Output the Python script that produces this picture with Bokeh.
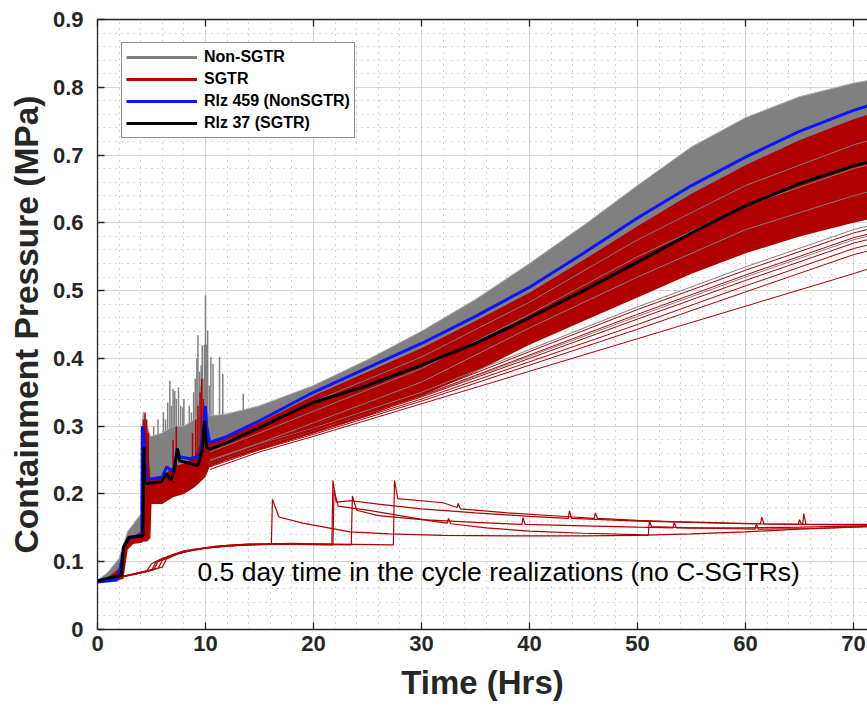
import math
from bokeh.plotting import figure
from bokeh.models import (LinearAxis, Legend, LegendItem, Label, Range1d,
                          SingleIntervalTicker, CustomJSTickFormatter)
from bokeh.embed import file_html
from bokeh.resources import INLINE

# ---------------- data ----------------
# envelope of the dense ensembles
T_BAND = [0, 1, 2, 2.4, 2.8, 3.3, 4.1, 4.25, 4.6, 4.9, 5, 6, 7, 8, 9, 10, 10.4,
          12, 15, 20, 25, 30, 35, 40, 45, 50, 55, 60, 65, 70, 72]
GRAY_HI = [0.072, 0.085, 0.105, 0.125, 0.145, 0.155, 0.172, 0.32, 0.30, 0.285, 0.285,
           0.29, 0.3, 0.3, 0.31, 0.33, 0.315, 0.318, 0.33, 0.36, 0.398, 0.44,
           0.487, 0.54, 0.596, 0.655, 0.712, 0.755, 0.786, 0.806, 0.812]
GRAY_LO = [0.07, 0.072, 0.078, 0.085, 0.125, 0.13, 0.135, 0.135, 0.2, 0.2, 0.205,
           0.205, 0.21, 0.215, 0.22, 0.235, 0.245, 0.255, 0.27, 0.295, 0.32, 0.35,
           0.385, 0.425, 0.46, 0.495, 0.53, 0.56, 0.585, 0.605, 0.612]
RED_HI = [0.071, 0.078, 0.09, 0.118, 0.133, 0.138, 0.145, 0.31, 0.285, 0.225, 0.22,
          0.225, 0.24, 0.245, 0.255, 0.29, 0.275, 0.285, 0.305, 0.345, 0.38, 0.415,
          0.455, 0.497, 0.545, 0.595, 0.643, 0.685, 0.722, 0.753, 0.763]
RED_LO = [0.07, 0.071, 0.073, 0.075, 0.118, 0.126, 0.128, 0.13, 0.13, 0.135, 0.185,
          0.185, 0.195, 0.2, 0.21, 0.225, 0.24, 0.25, 0.265, 0.29, 0.315, 0.345,
          0.38, 0.42, 0.455, 0.49, 0.525, 0.555, 0.58, 0.6, 0.607]

# early pressure spikes
GSPIKE_X = [4.25, 4.35, 4.45, 5.2, 5.6, 6.1, 6.3, 6.5, 6.7, 6.85, 7.0, 7.15, 7.3, 7.5,
            7.7, 7.9, 8.0, 8.3, 8.5, 8.7, 8.9, 9.05, 9.2, 9.3, 9.45, 9.55, 9.6, 9.7,
            9.85, 9.9, 10.0, 10.1, 10.2, 10.35, 10.5, 10.7, 11.3, 11.6, 13.5]
GSPIKE_TOP = [0.32, 0.315, 0.31, 0.3, 0.31, 0.32, 0.31, 0.335, 0.367, 0.33, 0.355,
              0.352, 0.34, 0.357, 0.33, 0.328, 0.34, 0.3, 0.33, 0.32, 0.35, 0.37, 0.4,
              0.434, 0.38, 0.36, 0.39, 0.419, 0.37, 0.42, 0.493, 0.42, 0.441, 0.36,
              0.402, 0.392, 0.402, 0.377, 0.348]
GSPIKE_BASE = [0.22, 0.22, 0.22, 0.23, 0.235, 0.24, 0.24, 0.245, 0.245, 0.25, 0.25,
               0.25, 0.25, 0.25, 0.25, 0.255, 0.255, 0.26, 0.26, 0.26, 0.265, 0.265,
               0.27, 0.27, 0.27, 0.27, 0.27, 0.27, 0.27, 0.28, 0.28, 0.28, 0.28, 0.29,
               0.29, 0.3, 0.305, 0.31, 0.32]
RSPIKE_X = [4.25, 4.4, 4.55, 4.7, 7.0, 7.3, 8.8, 9.1, 9.3, 9.5, 9.65, 9.8, 10.0]
RSPIKE_TOP = [0.31, 0.32, 0.31, 0.29, 0.28, 0.3, 0.29, 0.31, 0.33, 0.35, 0.37, 0.34, 0.3]
RSPIKE_BASE = [0.2, 0.2, 0.2, 0.2, 0.21, 0.21, 0.22, 0.22, 0.22, 0.23, 0.23, 0.23, 0.24]

# individual realizations on a coarse grid (late phase)
T_SCAT = [10.4, 15, 20, 30, 40, 50, 60, 70, 72]
GRAY_INSIDE = [
    [0.25, 0.275, 0.305, 0.365, 0.445, 0.52, 0.59, 0.64, 0.648],
    [0.262, 0.29, 0.322, 0.385, 0.465, 0.55, 0.625, 0.68, 0.688],
    [0.268, 0.298, 0.336, 0.402, 0.483, 0.575, 0.655, 0.715, 0.724],
]
RED_BELOW = [
    [0.236, 0.262, 0.285, 0.333, 0.381, 0.429, 0.477, 0.525, 0.535],
    [0.24, 0.265, 0.288, 0.337, 0.39, 0.443, 0.498, 0.553, 0.561],
    [0.242, 0.267, 0.29, 0.34, 0.395, 0.45, 0.507, 0.562, 0.57],
    [0.244, 0.269, 0.292, 0.343, 0.4, 0.458, 0.515, 0.57, 0.578],
    [0.246, 0.271, 0.294, 0.345, 0.405, 0.465, 0.523, 0.578, 0.586],
    [0.247, 0.273, 0.296, 0.347, 0.41, 0.472, 0.53, 0.585, 0.593],
]
GRAY_BELOW = [
    [0.245, 0.27, 0.293, 0.344, 0.403, 0.462, 0.52, 0.575, 0.583],
    [0.248, 0.274, 0.297, 0.35, 0.413, 0.476, 0.535, 0.59, 0.598],
]

# 0.5 day time in the cycle realizations
LOW1_T = [0, 4.5, 5.0, 6, 8, 10, 12, 14, 16.1, 16.2, 16.8, 19, 23.4, 27, 32, 38, 45,
          50, 55, 60, 65, 72]
LOW1_Y = [0.07, 0.085, 0.097, 0.105, 0.114, 0.12, 0.124, 0.126, 0.126, 0.192, 0.166,
          0.157, 0.144, 0.141, 0.139, 0.138, 0.138, 0.139, 0.141, 0.144, 0.148, 0.152]
LOW2_T = [0, 5.6, 6.0, 7, 9, 11, 14, 18, 21.7, 21.8, 22.1, 23.5, 26, 30, 35, 40, 43.6,
          43.7, 43.9, 50, 56, 61.4, 61.5, 61.7, 65.3, 65.4, 65.6, 72]
LOW2_Y = [0.07, 0.09, 0.102, 0.11, 0.118, 0.123, 0.126, 0.127, 0.126, 0.22, 0.188,
          0.19, 0.185, 0.178, 0.172, 0.167, 0.164, 0.175, 0.164, 0.16, 0.158, 0.156,
          0.166, 0.156, 0.155, 0.171, 0.155, 0.154]
LOW3_T = [0, 5.2, 5.6, 6.5, 8, 10, 13, 16, 21.8, 21.9, 22.3, 25, 28, 31, 32.4, 32.5,
          32.7, 36, 40, 45, 50, 51.0, 51.1, 51.3, 55, 60, 65, 72]
LOW3_Y = [0.07, 0.088, 0.1, 0.108, 0.116, 0.121, 0.125, 0.126, 0.125, 0.205, 0.182,
          0.176, 0.168, 0.16, 0.157, 0.164, 0.156, 0.15, 0.145, 0.142, 0.14, 0.139,
          0.16, 0.152, 0.15, 0.15, 0.151, 0.153]
LOW4_T = [0, 6.0, 6.4, 7.5, 9, 11, 14, 18, 23.5, 23.6, 24.0, 26, 30, 35, 39.3, 39.4,
          39.6, 45, 50, 53.3, 53.4, 53.6, 58, 60.9, 61.0, 61.2, 66, 72]
LOW4_Y = [0.07, 0.092, 0.104, 0.112, 0.118, 0.122, 0.125, 0.126, 0.125, 0.197, 0.176,
          0.168, 0.162, 0.158, 0.155, 0.165, 0.155, 0.153, 0.151, 0.15, 0.158, 0.15,
          0.149, 0.148, 0.156, 0.148, 0.149, 0.152]
LOW5_T = [0, 5.0, 5.4, 6.5, 8, 10, 13, 17, 22, 27.4, 27.5, 27.8, 32, 33.3, 33.4, 33.6,
          38, 44, 46.0, 46.1, 46.3, 50, 55, 60, 64.9, 65.0, 65.2, 72]
LOW5_Y = [0.07, 0.087, 0.099, 0.107, 0.115, 0.12, 0.124, 0.126, 0.126, 0.125, 0.22,
          0.193, 0.187, 0.18, 0.186, 0.178, 0.172, 0.166, 0.164, 0.172, 0.164, 0.161,
          0.158, 0.156, 0.155, 0.162, 0.155, 0.155]

# highlighted realizations
BLUE_T = [0, 1.8, 2.1, 2.5, 3.0, 4.1, 4.15, 4.3, 4.5, 5.0, 6.0, 6.4, 6.8, 7.1, 7.4, 7.6,
          8.5, 9.4, 9.6, 10.0, 10.1, 10.4, 12, 15, 20, 25, 30, 35, 40, 45, 50, 55, 60,
          65, 70, 72]
BLUE_Y = [0.07, 0.073, 0.09, 0.125, 0.135, 0.14, 0.3, 0.275, 0.222, 0.222, 0.225, 0.24,
          0.235, 0.238, 0.265, 0.255, 0.252, 0.255, 0.265, 0.33, 0.3, 0.276, 0.285,
          0.308, 0.35, 0.386, 0.422, 0.462, 0.505, 0.555, 0.607, 0.655, 0.697, 0.735,
          0.766, 0.776]
BLACK_T = [0, 2.2, 2.4, 2.9, 4.2, 4.3, 4.35, 5.9, 6.4, 6.8, 7.1, 7.4, 7.6, 9.3, 9.7,
           9.9, 10.1, 10.4, 12, 15, 17, 20, 25, 30, 35, 40, 45, 50, 55, 60, 65, 70, 72]
BLACK_Y = [0.072, 0.08, 0.121, 0.136, 0.138, 0.269, 0.215, 0.218, 0.23, 0.22, 0.235,
           0.267, 0.249, 0.242, 0.264, 0.308, 0.269, 0.266, 0.276, 0.298, 0.313, 0.335,
           0.36, 0.39, 0.422, 0.46, 0.5, 0.542, 0.585, 0.625, 0.658, 0.684, 0.692]

LEGEND_LABELS = ["Non-SGTR", "SGTR", "Rlz 459 (NonSGTR)", "Rlz 37 (SGTR)"]
ANNOTATION = "0.5 day time in the cycle realizations (no C-SGTRs)"
X_LABEL = "Time (Hrs)"
Y_LABEL = "Containment Pressure (MPa)"

# ---------------- styling ----------------
GRAY = "#808080"
RED = "#b00000"
BLUE = "#0a14ff"
BLACK = "#000000"
AX = "#262626"
FONT = "Liberation Sans"

p = figure(width=867, height=713, x_range=Range1d(0, 71.3), y_range=Range1d(0, 0.9),
           output_backend="svg", toolbar_location=None,
           min_border_left=97, min_border_right=0, min_border_top=19,
           min_border_bottom=84, background_fill_color="white",
           border_fill_color="white", outline_line_color=None)

xticker = SingleIntervalTicker(interval=10, num_minor_ticks=5)
yticker = SingleIntervalTicker(interval=0.1, num_minor_ticks=5)
p.xaxis.ticker = xticker
p.yaxis.ticker = yticker
p.xgrid.ticker = xticker
p.ygrid.ticker = yticker
p.yaxis.formatter = CustomJSTickFormatter(
    code="return Math.abs(tick) < 1e-9 ? '0' : tick.toFixed(1);")

for g in (p.xgrid, p.ygrid):
    g.grid_line_color = "#d6d6d6"
    g.grid_line_width = 1
    g.minor_grid_line_color = "#9a9a9a"
    g.minor_grid_line_dash = "1 5"
    g.minor_grid_line_alpha = 0.8

for ax in (p.xaxis[0], p.yaxis[0]):
    ax.axis_line_color = AX
    ax.axis_line_width = 1.3
    ax.major_tick_line_color = AX
    ax.major_tick_line_width = 1.3
    ax.major_tick_in = 7
    ax.major_tick_out = 0
    ax.minor_tick_in = 0
    ax.minor_tick_out = 0
    ax.major_label_text_font = FONT
    ax.major_label_text_font_style = "bold"
    ax.major_label_text_font_size = "22px"
    ax.major_label_text_color = AX
    ax.axis_label_text_font = FONT
    ax.axis_label_text_font_style = "bold"
    ax.axis_label_text_color = AX

p.xaxis.axis_label = X_LABEL
p.yaxis.axis_label = Y_LABEL
p.xaxis.axis_label_text_font_size = "33px"
p.yaxis.axis_label_text_font_size = "33.5px"
p.xaxis.major_label_standoff = 6
p.xaxis.axis_label_standoff = 10
p.yaxis.major_label_standoff = 14
p.yaxis.axis_label_standoff = 5

top = LinearAxis(ticker=xticker, formatter=CustomJSTickFormatter(code="return '';"),
                 major_label_text_font_size="0px", major_label_standoff=0,
                 major_tick_in=7, major_tick_out=0, minor_tick_in=0, minor_tick_out=0,
                 axis_line_color=AX, axis_line_width=1.3, major_tick_line_color=AX,
                 major_tick_line_width=1.3)
p.add_layout(top, "above")

# ---------------- glyphs ----------------
p.varea(x=T_BAND, y1=GRAY_LO, y2=GRAY_HI, fill_color=GRAY)
p.segment(x0=GSPIKE_X, y0=GSPIKE_BASE, x1=GSPIKE_X, y1=GSPIKE_TOP,
          line_color=GRAY, line_width=1.5)
p.line(x=T_BAND, y=GRAY_HI, line_color="#a8a8a8", line_width=1)

p.varea(x=T_BAND, y1=RED_LO, y2=RED_HI, fill_color=RED)
p.segment(x0=RSPIKE_X, y0=RSPIKE_BASE, x1=RSPIKE_X, y1=RSPIKE_TOP,
          line_color=RED, line_width=1.5)

p.multi_line(xs=[T_SCAT] * len(GRAY_INSIDE), ys=GRAY_INSIDE,
             line_color=GRAY, line_width=1)
p.multi_line(xs=[T_SCAT] * len(GRAY_BELOW), ys=GRAY_BELOW,
             line_color=GRAY, line_width=1)
p.multi_line(xs=[T_SCAT] * len(RED_BELOW), ys=RED_BELOW,
             line_color=RED, line_width=1)

p.multi_line(xs=[LOW1_T, LOW2_T, LOW3_T, LOW4_T, LOW5_T],
             ys=[LOW1_Y, LOW2_Y, LOW3_Y, LOW4_Y, LOW5_Y],
             line_color=RED, line_width=1.2)

p.line(x=BLUE_T, y=BLUE_Y, line_color=BLUE, line_width=3)
p.line(x=BLACK_T, y=BLACK_Y, line_color=BLACK, line_width=3)

# legend proxies
nan = [math.nan]
r_g = p.line(x=nan, y=nan, line_color=GRAY, line_width=3)
r_r = p.line(x=nan, y=nan, line_color=RED, line_width=3)
r_b = p.line(x=nan, y=nan, line_color=BLUE, line_width=3)
r_k = p.line(x=nan, y=nan, line_color=BLACK, line_width=3)

legend = Legend(items=[LegendItem(label=LEGEND_LABELS[0], renderers=[r_g]),
                       LegendItem(label=LEGEND_LABELS[1], renderers=[r_r]),
                       LegendItem(label=LEGEND_LABELS[2], renderers=[r_b]),
                       LegendItem(label=LEGEND_LABELS[3], renderers=[r_k])],
                location=(24, 491), orientation="vertical",
                label_text_font=FONT, label_text_font_style="bold",
                label_text_font_size="16px", label_text_color="black",
                glyph_width=71, glyph_height=20, label_height=20, label_standoff=7,
                spacing=2, padding=4, margin=0,
                border_line_color=AX, border_line_width=1,
                background_fill_color="white", background_fill_alpha=1)
p.add_layout(legend, "center")

p.add_layout(Label(x=9.26, y=0.0845, text=ANNOTATION, text_font=FONT,
                   text_font_size="26.5px", text_align="left",
                   text_baseline="alphabetic", text_color="black"))

open("out.html", "w").write(file_html(p, INLINE))
